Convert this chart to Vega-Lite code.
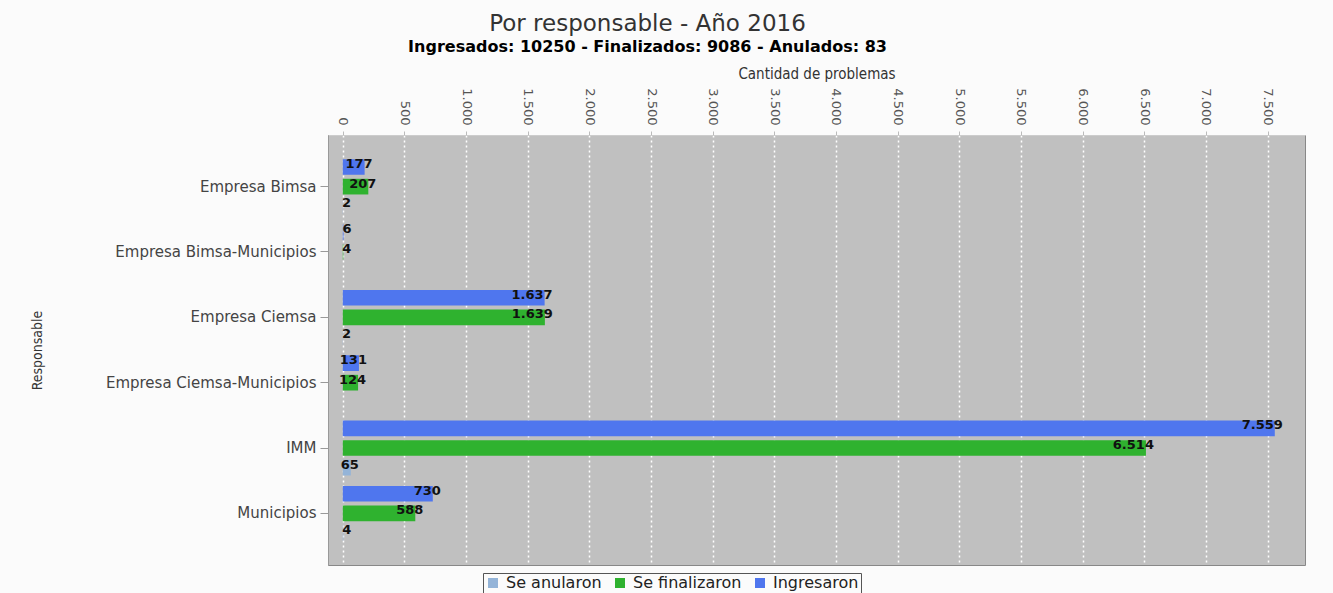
{
  "$schema": "https://vega.github.io/schema/vega-lite/v6.json",
  "autosize": "none",
  "width": 977,
  "height": 430,
  "padding": {"left": 328, "top": 135, "right": 28, "bottom": 28},
  "background": "#fbfbfb",
  "config": {
    "locale": {"number": {"decimal": ",", "thousands": ".", "grouping": [3], "currency": ["", ""]}},
    "font": "DejaVu Sans",
    "view": {"fill": "#c0c0c0", "stroke": "#888888", "strokeWidth": 1}
  },
  "title": {
    "text": "Por responsable - Año 2016",
    "subtitle": "Ingresados: 10250 - Finalizados: 9086 - Anulados: 83",
    "anchor": "middle",
    "frame": "bounds",
    "dx": -20,
    "fontSize": 23,
    "fontWeight": "normal",
    "color": "#333333",
    "subtitleFontSize": 16,
    "subtitleFontWeight": "bold",
    "subtitleColor": "#000000",
    "subtitlePadding": 3,
    "offset": 12
  },
  "data": {
    "values": [
      {"responsable": "Empresa Bimsa", "serie": "Ingresaron", "valor": 177},
      {"responsable": "Empresa Bimsa", "serie": "Se finalizaron", "valor": 207},
      {"responsable": "Empresa Bimsa", "serie": "Se anularon", "valor": 2},
      {"responsable": "Empresa Bimsa-Municipios", "serie": "Ingresaron", "valor": 6},
      {"responsable": "Empresa Bimsa-Municipios", "serie": "Se finalizaron", "valor": 4},
      {"responsable": "Empresa Ciemsa", "serie": "Ingresaron", "valor": 1637},
      {"responsable": "Empresa Ciemsa", "serie": "Se finalizaron", "valor": 1639},
      {"responsable": "Empresa Ciemsa", "serie": "Se anularon", "valor": 2},
      {"responsable": "Empresa Ciemsa-Municipios", "serie": "Ingresaron", "valor": 131},
      {"responsable": "Empresa Ciemsa-Municipios", "serie": "Se finalizaron", "valor": 124},
      {"responsable": "IMM", "serie": "Ingresaron", "valor": 7559},
      {"responsable": "IMM", "serie": "Se finalizaron", "valor": 6514},
      {"responsable": "IMM", "serie": "Se anularon", "valor": 65},
      {"responsable": "Municipios", "serie": "Ingresaron", "valor": 730},
      {"responsable": "Municipios", "serie": "Se finalizaron", "valor": 588},
      {"responsable": "Municipios", "serie": "Se anularon", "valor": 4}
    ]
  },
  "encoding": {
    "y": {
      "field": "responsable",
      "type": "nominal",
      "sort": null,
      "scale": {"paddingInner": 0.1, "paddingOuter": 0.34},
      "axis": {
        "title": "Responsable",
        "titleFont": "DejaVu Sans Condensed, Liberation Sans, sans-serif",
        "titleFontSize": 14,
        "titleFontWeight": "normal",
        "titleColor": "#333333",
        "titlePadding": 84,
        "labelFontSize": 15,
        "labelColor": "#444444",
        "labelPadding": 4,
        "labelLimit": 400,
        "tickSize": 8,
        "tickColor": "#999999",
        "domainColor": "#999999"
      }
    },
    "yOffset": {
      "field": "serie",
      "type": "nominal",
      "sort": ["Ingresaron", "Se finalizaron", "Se anularon"],
      "scale": {"paddingInner": 0.2, "paddingOuter": 0.1}
    },
    "x": {
      "field": "valor",
      "type": "quantitative",
      "scale": {"domain": [-120, 7804], "nice": false, "zero": false},
      "axis": {
        "orient": "top",
        "title": "Cantidad de problemas",
        "titleFont": "DejaVu Sans Condensed, Liberation Sans, sans-serif",
        "titleFontSize": 15,
        "titleFontWeight": "normal",
        "titleColor": "#333333",
        "titlePadding": 6,
        "values": [0, 500, 1000, 1500, 2000, 2500, 3000, 3500, 4000, 4500, 5000, 5500, 6000, 6500, 7000, 7500],
        "format": ",d",
        "labelAngle": 90,
        "labelAlign": "right",
        "labelBaseline": "middle",
        "labelFontSize": 13,
        "labelColor": "#555555",
        "labelPadding": 6,
        "tickSize": 4,
        "tickColor": "#bbbbbb",
        "domainColor": "#cccccc",
        "grid": true,
        "gridColor": "#ffffff",
        "gridDash": [2, 3],
        "gridWidth": 1.5
      }
    }
  },
  "layer": [
    {
      "mark": {"type": "bar", "stroke": null},
      "encoding": {
        "color": {
          "field": "serie",
          "type": "nominal",
          "sort": ["Se anularon", "Se finalizaron", "Ingresaron"],
          "scale": {
            "domain": ["Se anularon", "Se finalizaron", "Ingresaron"],
            "range": ["#94b4d8", "#2fb22f", "#4f76ee"]
          },
          "legend": {
            "orient": "none",
            "legendX": 155,
            "legendY": 438,
            "direction": "horizontal",
            "title": null,
            "labelFontSize": 16,
            "labelColor": "#222222",
            "symbolType": "square",
            "symbolSize": 100,
            "symbolStrokeWidth": 0,
            "columnPadding": 10,
            "labelOffset": 5,
            "strokeColor": "#555555",
            "padding": 2,
            "values": ["Se anularon", "Se finalizaron", "Ingresaron"]
          }
        }
      }
    },
    {
      "mark": {"type": "text", "align": "right", "baseline": "middle", "dx": 8, "dy": -3, "fontSize": 13, "fontWeight": "bold", "color": "#111111"},
      "encoding": {
        "text": {"field": "valor", "type": "quantitative", "format": ",d"}
      }
    }
  ]
}
